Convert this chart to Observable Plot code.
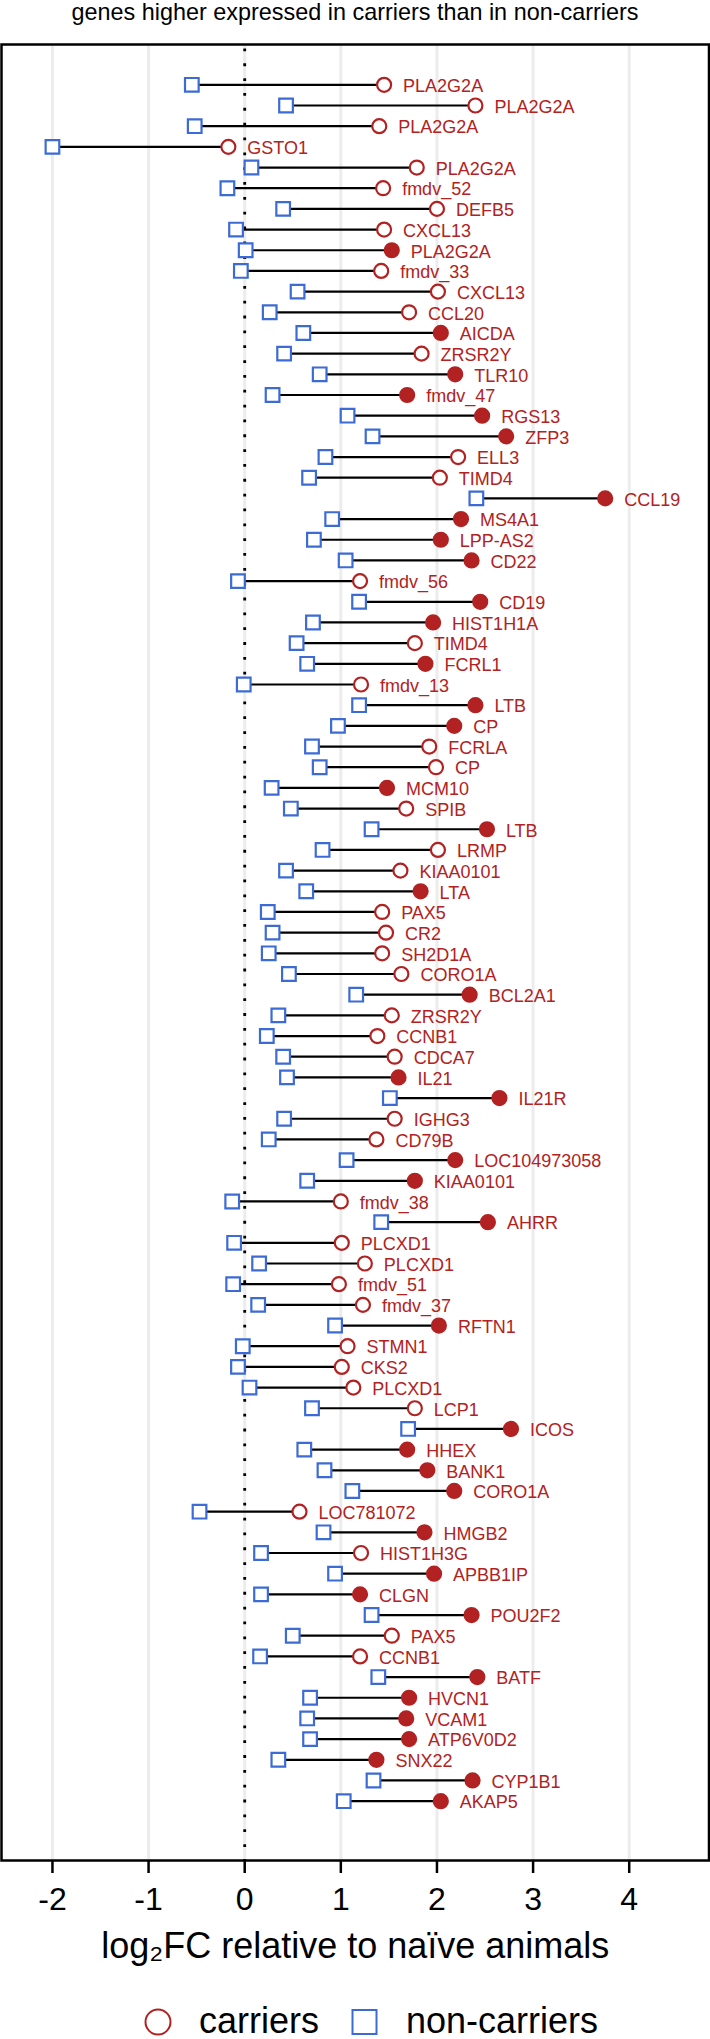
<!DOCTYPE html>
<html>
<head>
<meta charset="utf-8">
<script src="https://cdn.jsdelivr.net/npm/d3@7"></script>
<script src="https://cdn.jsdelivr.net/npm/@observablehq/plot@0.6"></script>
<style>
html, body { margin: 0; padding: 0; background: #fff; }
body { width: 710px; height: 2039px; overflow: hidden; font-family: "Liberation Sans", Arial, sans-serif; }
#title { height: 42px; font-size: 23.4px; line-height: 23.4px; text-align: center; position: relative; top: 1px; white-space: nowrap; color: #000; }
#chart svg, #legend svg { display: block; }
</style>
</head>
<body>
<div id="title">genes higher expressed in carriers than in non-carriers</div>
<div id="chart"></div>
<div id="legend"></div>
<script>
// ---- data ----
const genes = [
  "PLA2G2A","PLA2G2A","PLA2G2A","GSTO1","PLA2G2A","fmdv_52","DEFB5","CXCL13","PLA2G2A","fmdv_33",
  "CXCL13","CCL20","AICDA","ZRSR2Y","TLR10","fmdv_47","RGS13","ZFP3","ELL3","TIMD4",
  "CCL19","MS4A1","LPP-AS2","CD22","fmdv_56","CD19","HIST1H1A","TIMD4","FCRL1","fmdv_13",
  "LTB","CP","FCRLA","CP","MCM10","SPIB","LTB","LRMP","KIAA0101","LTA",
  "PAX5","CR2","SH2D1A","CORO1A","BCL2A1","ZRSR2Y","CCNB1","CDCA7","IL21","IL21R",
  "IGHG3","CD79B","LOC104973058","KIAA0101","fmdv_38","AHRR","PLCXD1","PLCXD1","fmdv_51","fmdv_37",
  "RFTN1","STMN1","CKS2","PLCXD1","LCP1","ICOS","HHEX","BANK1","CORO1A","LOC781072",
  "HMGB2","HIST1H3G","APBB1IP","CLGN","POU2F2","PAX5","CCNB1","BATF","HVCN1","VCAM1",
  "ATP6V0D2","SNX22","CYP1B1","AKAP5"
];
const carriers = [
  1.45,2.40,1.40,-0.17,1.79,1.44,2.00,1.45,1.53,1.42,
  2.01,1.71,2.04,1.84,2.19,1.69,2.47,2.72,2.22,2.03,
  3.75,2.25,2.04,2.36,1.20,2.45,1.96,1.77,1.88,1.21,
  2.40,2.18,1.92,1.99,1.48,1.68,2.52,2.01,1.62,1.83,
  1.43,1.47,1.43,1.63,2.34,1.53,1.38,1.56,1.60,2.65,
  1.56,1.37,2.19,1.77,1.00,2.53,1.01,1.25,0.98,1.23,
  2.02,1.07,1.01,1.13,1.77,2.77,1.69,1.90,2.18,0.57,
  1.87,1.21,1.97,1.20,2.36,1.53,1.20,2.42,1.71,1.68,
  1.71,1.37,2.37,2.04
];
const nonCarriers = [
  -0.55,0.43,-0.52,-2.00,0.07,-0.18,0.40,-0.09,0.01,-0.04,
  0.55,0.26,0.61,0.41,0.78,0.29,1.07,1.33,0.84,0.67,
  2.41,0.91,0.72,1.05,-0.07,1.19,0.71,0.54,0.65,-0.01,
  1.19,0.97,0.70,0.78,0.28,0.48,1.32,0.81,0.43,0.64,
  0.24,0.29,0.25,0.46,1.16,0.35,0.23,0.40,0.44,1.51,
  0.41,0.25,1.06,0.65,-0.13,1.42,-0.11,0.15,-0.12,0.14,
  0.94,-0.02,-0.07,0.05,0.70,1.70,0.62,0.83,1.12,-0.47,
  0.82,0.17,0.94,0.17,1.32,0.50,0.16,1.39,0.68,0.65,
  0.68,0.35,1.34,1.03
];
// 1 = filled carrier marker, 0 = open carrier marker
const carrierFilled = [
  0,0,0,0,0,0,0,0,1,0,
  0,0,1,0,1,1,1,1,0,0,
  1,1,1,1,0,1,1,0,1,0,
  1,1,0,0,1,0,1,0,0,1,
  0,0,0,0,1,0,0,0,1,1,
  0,0,1,1,0,1,0,0,0,0,
  1,0,0,0,0,1,1,1,1,0,
  1,0,1,1,1,0,0,1,1,1,
  1,1,1,1
];
const xTicks = [-2, -1, 0, 1, 2, 3, 4];
const axisLabel = "log\u2082FC relative to na\u00efve animals";
const legendLabels = ["carriers", "non-carriers"];

const red = "#b22222";
const blue = "#3d6bd6";
const font = '"Liberation Sans", Arial, sans-serif';

const rows = genes.map((g, i) => ({
  gene: g, row: i + 1, c: carriers[i], nc: nonCarriers[i], filled: carrierFilled[i] === 1
}));

const chart = Plot.plot({
  width: 710,
  height: 1933,
  marginTop: 2,
  marginLeft: 1,
  marginRight: 1.5,
  marginBottom: 115,
  style: { fontFamily: font, color: "black", background: "white", overflow: "visible" },
  x: { domain: [-2.53, 4.83] },
  y: { type: "linear", domain: [-0.95, 86.87], reverse: true, axis: null },
  marks: [
    Plot.ruleX(xTicks, { stroke: "#ececec", strokeWidth: 3 }),
    Plot.ruleX([0], { stroke: "black", strokeWidth: 2.8, strokeDasharray: "2.8 12.04", strokeDashoffset: -4.5 }),
    Plot.ruleY(rows, { y: "row", x1: "nc", x2: "c", stroke: "black", strokeWidth: 2.2 }),
    Plot.dot(rows, { x: "nc", y: "row", symbol: "square", r: 7.7, stroke: blue, fill: "white", strokeWidth: 2.2 }),
    Plot.dot(rows.filter(d => !d.filled), { x: "c", y: "row", r: 7, stroke: red, fill: "white", strokeWidth: 2.2 }),
    Plot.dot(rows.filter(d => d.filled), { x: "c", y: "row", r: 7, stroke: red, fill: red, strokeWidth: 2.2 }),
    Plot.text(rows, { x: "c", y: "row", text: "gene", textAnchor: "start", dx: 19, dy: 1.5, fill: red, fontSize: 18 }),
    Plot.frame({ stroke: "black", strokeWidth: 2.5 }),
    Plot.axisX({ ticks: xTicks, tickFormat: d => String(d), tickSize: 13, tickPadding: 14, fontSize: 32, strokeWidth: 2.5, label: null, fill: "black" }),
    Plot.text([axisLabel], { text: d => d, frameAnchor: "bottom", lineAnchor: "middle", dy: 85.5, fontSize: 36, fill: "black" })
  ]
});
document.getElementById("chart").appendChild(chart);

// ---- legend ----
const lg = d3.select("#legend").append("svg")
  .attr("width", 710).attr("height", 64)
  .style("font-family", font);
lg.append("circle").attr("cx", 158).attr("cy", 47).attr("r", 12.5)
  .attr("fill", "white").attr("stroke", red).attr("stroke-width", 2);
lg.append("text").attr("x", 199).attr("y", 57.5).attr("font-size", 36).attr("fill", "black").text(legendLabels[0]);
lg.append("rect").attr("x", 352.5).attr("y", 35).attr("width", 24).attr("height", 24)
  .attr("fill", "white").attr("stroke", blue).attr("stroke-width", 2);
lg.append("text").attr("x", 406).attr("y", 57.5).attr("font-size", 36).attr("fill", "black").text(legendLabels[1]);
</script>
</body>
</html>
